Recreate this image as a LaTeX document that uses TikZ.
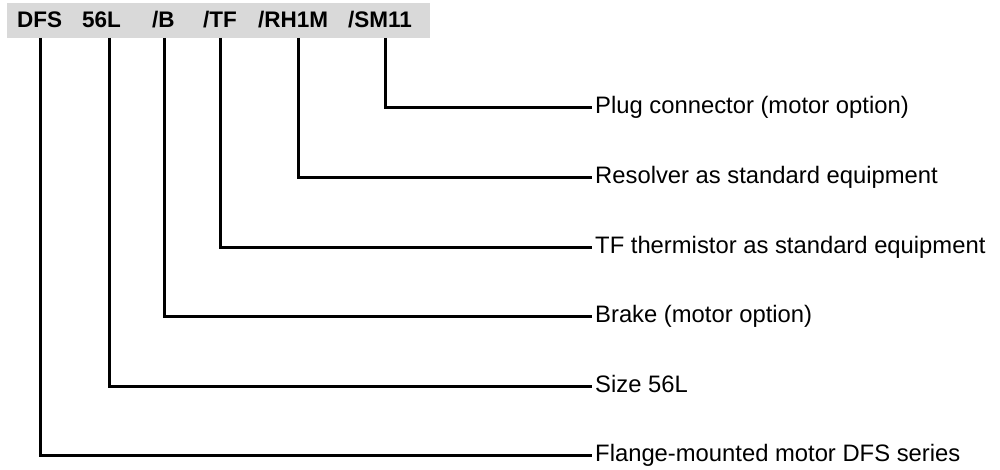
\documentclass[tikz,border=0pt]{standalone}
\usepackage{fontspec}
\setmainfont{Liberation Sans}
\definecolor{barcol}{HTML}{D9D9D9}
\begin{document}
\begin{tikzpicture}[x=1pt,y=-1pt,
  code/.style={anchor=base west,inner sep=0pt,font=\fontsize{22.5}{23}\selectfont\bfseries},
  lbl/.style={anchor=west,inner xsep=3pt,inner ysep=0pt,text height=12pt,text depth=0pt,font=\fontsize{23.8}{24}\selectfont},
  lead/.style={line width=3pt}]
\useasboundingbox (0,0) rectangle (1000,470);
\fill[barcol] (7,3) rectangle (430,38);
% code tokens
\node[code] (cDFS) at (17,28) {DFS};
\node[code] (c56L) at (82,28) {56L};
\node[code] (cB) at (152,28) {/B};
\node[code] (cTF) at (203,28) {/TF};
\node[code] (cRH) at (258,28) {/RH1M};
\node[code] (cSM) at (348,28) {/SM11};
% line tops
\coordinate (tDFS) at (40,38);
\coordinate (t56L) at (109,38);
\coordinate (tB) at (164,38);
\coordinate (tTF) at (220,38);
\coordinate (tRH) at (298,38);
\coordinate (tSM) at (385,38);
% labels
\node[lbl] (lSM) at (592,108) {Plug connector (motor option)};
\node[lbl] (lRH) at (592,178) {Resolver as standard equipment};
\node[lbl] (lTF) at (592,247) {TF thermistor as standard equipment};
\node[lbl] (lB) at (592,316) {Brake (motor option)};
\node[lbl] (l56L) at (592,386) {Size 56L};
\node[lbl] (lDFS) at (592,455) {Flange-mounted motor DFS series};
% leaders
\draw[lead] (tSM) |- (lSM.west);
\draw[lead] (tRH) |- (lRH.west);
\draw[lead] (tTF) |- (lTF.west);
\draw[lead] (tB) |- (lB.west);
\draw[lead] (t56L) |- (l56L.west);
\draw[lead] (tDFS) |- (lDFS.west);
\end{tikzpicture}
\end{document}
